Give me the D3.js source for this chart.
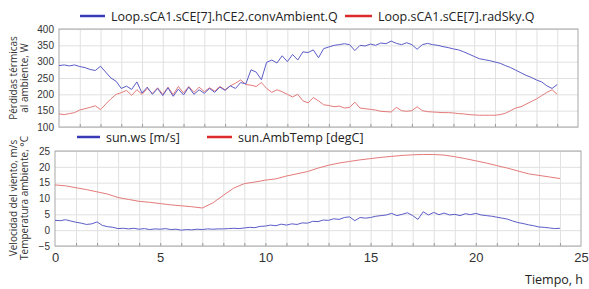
<!DOCTYPE html>
<html>
<head>
<meta charset="utf-8">
<script src="https://cdn.jsdelivr.net/npm/d3@7"></script>
<style>
  body { margin: 0; background: #fff; }
  svg { display: block; font-family: "Open Sans", "DejaVu Sans", sans-serif; }
</style>
</head>
<body>
<script>
// hours for the two sampling rates
const hoursQuarter = d3.range(0, 24.001, 0.25);
const hoursHalf = d3.range(0, 24.001, 0.5);

// top panel: heat losses to ambient, W (every 0.25 h)
const convAmbient = [
  288, 290, 287, 290, 285, 282, 276, 273, 286, 268, 250, 240, 218, 225, 215, 238,
  204, 222, 200, 218, 196, 220, 194, 216, 198, 222, 200, 214, 203, 218, 206, 222,
  212, 226, 218, 236, 232, 275, 268, 245, 298, 305, 296, 318, 300, 322, 305, 330,
  328, 336, 312, 340, 345, 350, 352, 355, 352, 334, 350, 348, 354, 350, 357, 355,
  363, 356, 352, 358, 352, 338, 352, 356, 352, 350, 346, 343, 339, 336, 330, 323,
  316, 309, 306, 303, 299, 295, 288, 282, 274, 266, 258, 252, 244, 238, 226, 218,
  230
];
const radSky = [
  140, 138, 141, 144, 152, 156, 160, 165, 153, 170, 186, 200, 205, 212, 197, 214,
  200, 218, 203, 220, 200, 222, 199, 224, 204, 224, 206, 222, 208, 220, 210, 224,
  214, 226, 234, 244, 230, 228, 224, 236, 218, 206, 214, 208, 200, 192, 200, 180,
  174, 190, 180, 168, 166, 162, 164, 158, 160, 176, 158, 156, 154, 152, 148, 147,
  146, 160, 150, 148, 150, 162, 150, 147, 146, 145, 144, 144, 143, 141, 140, 138,
  137, 136, 136, 136, 136, 138, 142, 150, 158, 162, 170, 178, 186, 196, 206, 214,
  200
];

// bottom panel: wind speed m/s (every 0.25 h), ambient temperature degC (every 0.5 h)
const windSpeed = [
  3.1, 3.0, 3.3, 2.9, 2.5, 2.2, 1.8, 2.0, 2.6, 1.5, 1.1, 0.9, 0.5, 0.6, 0.4, 0.6,
  0.3, 0.5, 0.2, 0.4, 0.3, 0.5, 0.2, 0.3, 0.0, 0.2, 0.1, 0.3, 0.2, 0.4, 0.3, 0.4,
  0.4, 0.5, 0.6, 0.5, 0.7, 0.9, 0.8, 1.2, 1.3, 1.6, 1.4, 1.9, 1.6, 2.0, 1.8, 2.3,
  2.2, 2.8, 2.7, 3.2, 3.1, 3.6, 3.4, 4.0, 4.2, 3.0, 4.0, 3.8, 4.0, 4.4, 4.6, 4.8,
  5.3, 4.6, 5.0, 5.5, 4.6, 3.4, 5.8, 4.8, 5.6, 4.9, 5.4, 4.8, 5.0, 4.6, 5.2, 4.9,
  5.3, 4.8, 4.6, 4.4, 4.1, 3.8, 3.5, 2.9, 2.4, 2.1, 1.7, 1.4, 1.0, 0.9, 0.7, 0.5,
  0.6
];
const ambTemp = [
  14.3, 14.0, 13.4, 12.8, 12.1, 11.4, 10.3, 9.7, 9.1, 8.8, 8.4, 8.0, 7.7, 7.4, 7.0, 8.6,
  11.0, 13.3, 14.7, 15.2, 15.8, 16.2, 17.1, 17.8, 18.5, 19.6, 20.5, 21.2, 21.7, 22.2, 22.6, 23.0,
  23.3, 23.6, 23.8, 23.9, 23.9, 23.7, 23.2, 22.6, 21.9, 21.2, 20.4, 19.6, 18.7, 17.8, 17.3, 16.8,
  16.3
];

const topTicks = [100, 150, 200, 250, 300, 350, 400];
const bottomTicks = [-5, 0, 5, 10, 15, 20, 25];
const xTicks = [0, 5, 10, 15, 20, 25];

const blue = '#5c5cc8';
const red = '#e47a7a';
const legendBlue = '#3a3ab8';
const legendRed = '#dd2a2a';

const width = 589;
const height = 289;

const svg = d3.select('body').append('svg')
  .attr('width', width)
  .attr('height', height);

// draws one panel with its grid, axis labels and two series
function drawPanel (box, yDomain, yTickValues, series, showXLabels) {
  const xScale = d3.scaleLinear().domain([0, 25]).range([box.left, box.right]);
  const yScale = d3.scaleLinear().domain(yDomain).range([box.bottom, box.top]);
  const g = svg.append('g');

  // grid
  g.append('g')
    .attr('transform', `translate(0, ${box.bottom})`)
    .call(d3.axisBottom(xScale).tickValues(d3.range(1, 25)).tickSize(box.top - box.bottom).tickFormat(''))
    .call(a => a.select('.domain').remove())
    .call(a => a.selectAll('line').attr('stroke', '#e0e0e0'));
  g.append('g')
    .attr('transform', `translate(${box.left}, 0)`)
    .call(d3.axisLeft(yScale).tickValues(yTickValues).tickSize(box.left - box.right).tickFormat(''))
    .call(a => a.select('.domain').remove())
    .call(a => a.selectAll('line').attr('stroke', '#e0e0e0'));

  // small hour ticks on the bottom edge
  g.append('g')
    .attr('transform', `translate(0, ${box.bottom})`)
    .call(d3.axisTop(xScale).tickValues(d3.range(1, 25)).tickSize(3).tickFormat(''))
    .call(a => a.select('.domain').remove())
    .call(a => a.selectAll('line').attr('stroke', '#9a9a9a'));

  g.append('rect')
    .attr('x', box.left).attr('y', box.top)
    .attr('width', box.right - box.left).attr('height', box.bottom - box.top)
    .attr('fill', 'none').attr('stroke', '#a8a8a8');

  // y labels
  const yAxis = g.append('g')
    .attr('transform', `translate(${box.left}, 0)`)
    .call(d3.axisLeft(yScale).tickValues(yTickValues).tickSize(0).tickPadding(5));
  yAxis.select('.domain').remove();
  yAxis.selectAll('text').attr('font-size', 10).attr('fill', '#333').attr('font-family', 'inherit');

  if (showXLabels) {
    const xAxis = g.append('g')
      .attr('transform', `translate(0, ${box.bottom})`)
      .call(d3.axisBottom(xScale).tickValues(xTicks).tickSize(0).tickPadding(7));
    xAxis.select('.domain').remove();
    xAxis.selectAll('text').attr('font-size', 13).attr('fill', '#333').attr('font-family', 'inherit');
  }

  series.forEach(s => {
    const line = d3.line()
      .x((d, i) => xScale(s.hours[i]))
      .y(d => yScale(d));
    g.append('path')
      .datum(s.values)
      .attr('d', line)
      .attr('fill', 'none')
      .attr('stroke', s.color)
      .attr('stroke-width', 1);
  });
}

drawPanel({ left: 59, right: 578, top: 29, bottom: 127 }, [100, 400], topTicks, [
  { hours: hoursQuarter, values: radSky, color: red },
  { hours: hoursQuarter, values: convAmbient, color: blue }
], false);

drawPanel({ left: 55, right: 581, top: 151, bottom: 246 }, [-5, 25], bottomTicks, [
  { hours: hoursHalf, values: ambTemp, color: red },
  { hours: hoursQuarter, values: windSpeed, color: blue }
], true);

// legends
function legendItem (x1, x2, y, color, label) {
  svg.append('line')
    .attr('x1', x1).attr('x2', x2).attr('y1', y).attr('y2', y)
    .attr('stroke', color).attr('stroke-width', 2.5);
  svg.append('text')
    .attr('x', x2 + 6).attr('y', y + 4.5)
    .attr('font-size', 12.5).attr('fill', '#222')
    .text(label);
}
legendItem(80, 105, 16, legendBlue, 'Loop.sCA1.sCE[7].hCE2.convAmbient.Q');
legendItem(345, 372, 16, legendRed, 'Loop.sCA1.sCE[7].radSky.Q');
legendItem(77, 100, 137, legendBlue, 'sun.ws [m/s]');
legendItem(207, 232, 137, legendRed, 'sun.AmbTemp [degC]');

// axis titles
function yTitle (cy, lines) {
  const t = svg.append('text')
    .attr('transform', `translate(17, ${cy}) rotate(-90)`)
    .attr('text-anchor', 'middle')
    .attr('font-size', 10).attr('fill', '#333');
  lines.forEach((l, i) => {
    t.append('tspan').attr('x', 0).attr('dy', i === 0 ? 0 : 11).text(l);
  });
}
yTitle(78, ['Pérdidas térmicas', 'al ambiente, W']);
yTitle(198, ['Velocidad del viento, m/s', 'Temperatura ambiente, °C']);

svg.append('text')
  .attr('x', 583).attr('y', 284)
  .attr('text-anchor', 'end')
  .attr('font-size', 12.5).attr('fill', '#222')
  .text('Tiempo, h');
</script>
</body>
</html>
